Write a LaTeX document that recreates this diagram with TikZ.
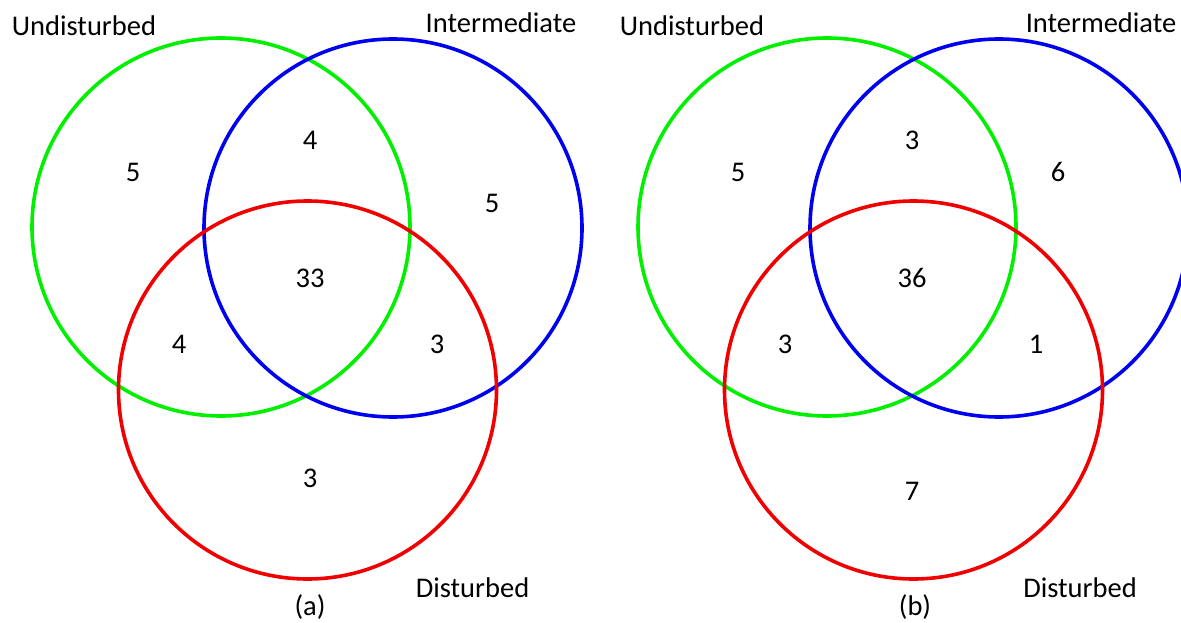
\documentclass[tikz,border=0pt]{standalone}
\usepackage{fontspec}
\setmainfont{Carlito}
\begin{document}
\begin{tikzpicture}[x=1pt,y=-1pt,
  ring/.style={line width=3.6pt},
  lbl/.style={font=\fontsize{28.5}{34}\selectfont, inner sep=0pt, anchor=base},
  num/.style={font=\fontsize{28.5}{34}\selectfont, inner sep=0pt}]
\useasboundingbox (0,0) rectangle (1181,623);
\definecolor{vgreen}{RGB}{0,240,0}
\definecolor{vblue}{RGB}{0,0,240}
\definecolor{vred}{RGB}{240,0,0}
% (a)
\draw[ring, vgreen] (221,227) circle (189);
\draw[ring, vblue] (393,228) circle (189);
\draw[ring, vred] (307.5,390) circle (189);
\node[lbl] (ua) at (84,36) {Undisturbed};
\node[lbl] (ia) at (501,33) {Intermediate};
\node[lbl] (da) at (472.5,597) {Disturbed};
\node[lbl] (capa) at (310,615) {(a)};
\node[num] (a1) at (133,172) {5};
\node[num] (a2) at (310,140) {4};
\node[num] (a3) at (492,203) {5};
\node[num] (a4) at (310,278) {33};
\node[num] (a5) at (179,344) {4};
\node[num] (a6) at (437,344) {3};
\node[num] (a7) at (310,478) {3};
% (b)
\draw[ring, vgreen] (827,227) circle (189);
\draw[ring, vblue] (999,228) circle (189);
\draw[ring, vred] (913.5,390) circle (189);
\node[lbl] (ub) at (692,36) {Undisturbed};
\node[lbl] (ib) at (1101,33) {Intermediate};
\node[lbl] (db) at (1080,597) {Disturbed};
\node[lbl] (capb) at (915,615) {(b)};
\node[num] (b1) at (738,172) {5};
\node[num] (b2) at (912,140) {3};
\node[num] (b3) at (1058,172) {6};
\node[num] (b4) at (912,278) {36};
\node[num] (b5) at (785,344) {3};
\node[num] (b6) at (1036,344) {1};
\node[num] (b7) at (912,491) {7};
\end{tikzpicture}
\end{document}
